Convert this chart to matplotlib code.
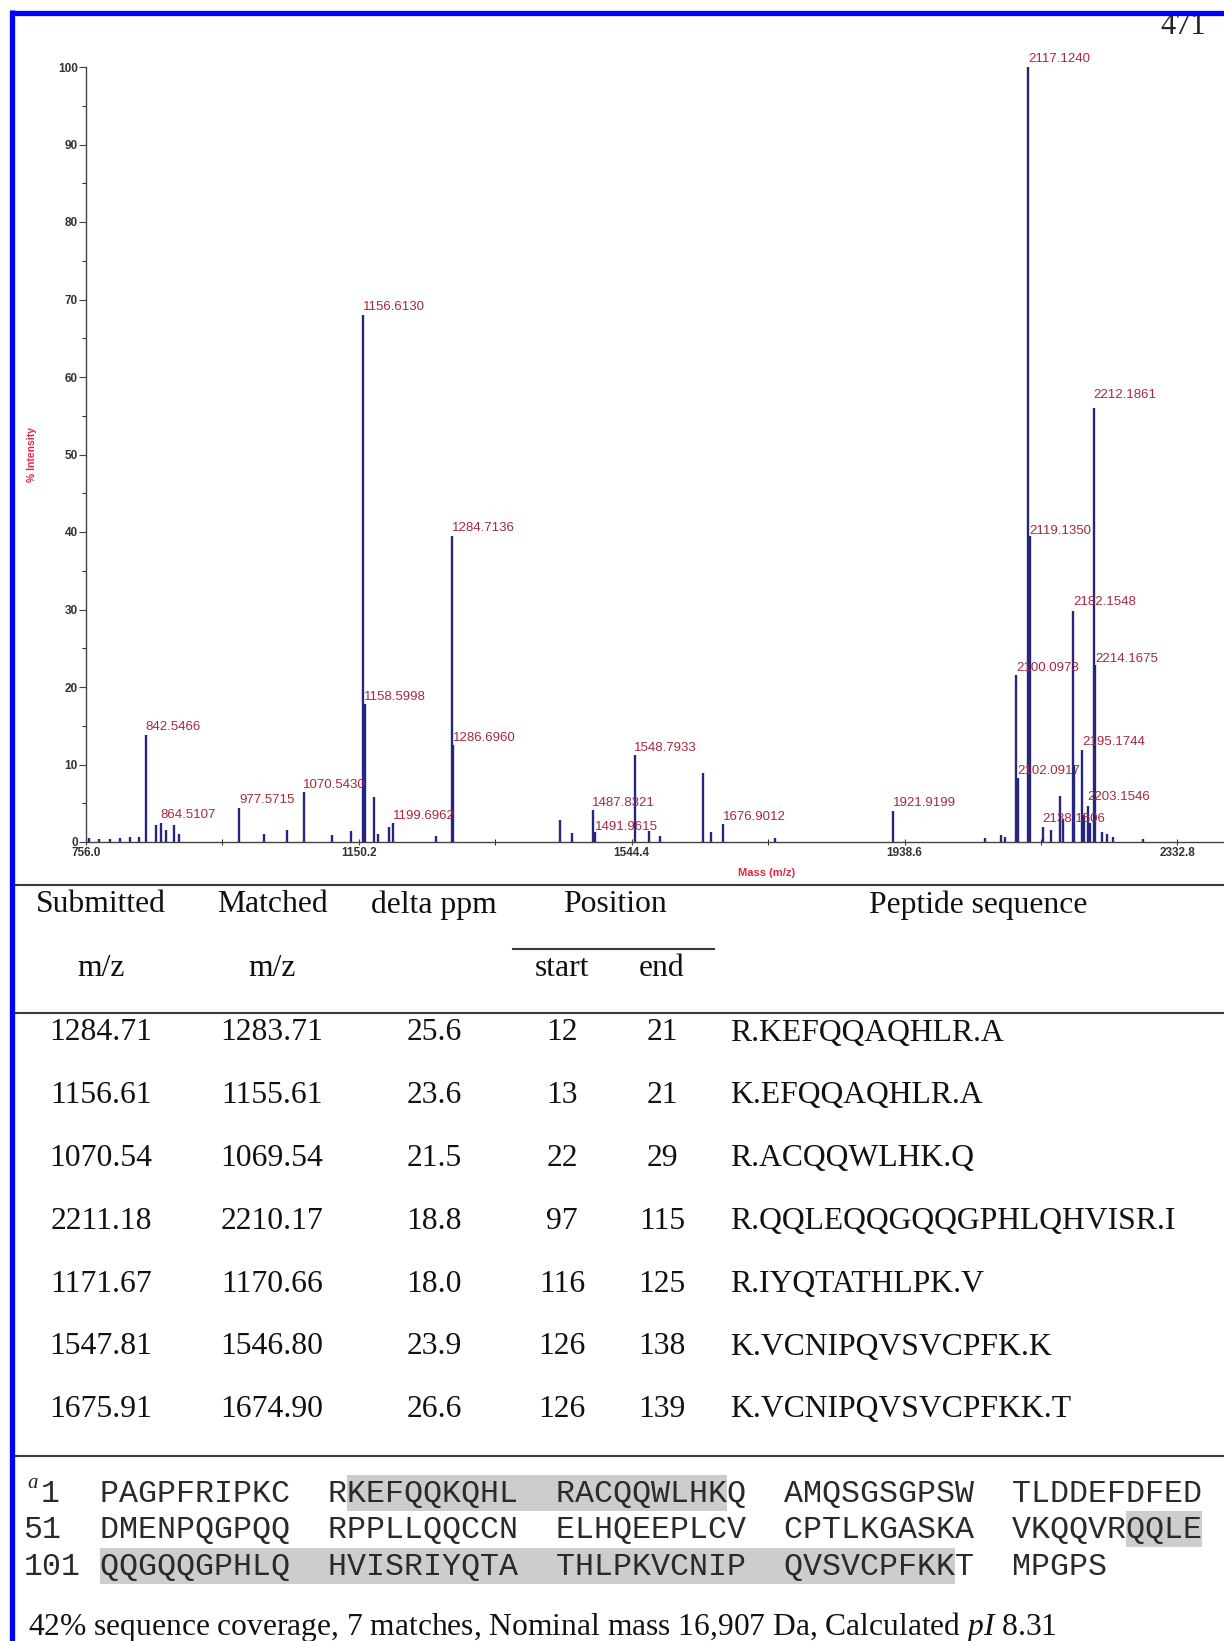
import matplotlib.pyplot as plt
from matplotlib.patches import Rectangle

plt.rcParams['mathtext.fontset'] = 'custom'
plt.rcParams['mathtext.rm'] = 'Liberation Serif'
plt.rcParams['mathtext.it'] = 'Liberation Serif:italic'

# MALDI spectrum, stick peaks (m/z, % intensity)
peak_mz = [760, 775, 790, 805, 820, 832,
           842.55, 857, 864.51, 871, 883.6, 890, 977.57, 1013, 1046, 1070.54,
           1112, 1139, 1156.61, 1158.60, 1172, 1178, 1194, 1199.70, 1262,
           1284.71, 1286.70, 1441, 1458, 1487.83, 1491.96, 1548.79, 1570, 1585,
           1646.7, 1659, 1676.90, 1752, 1921.92, 2055, 2078, 2084, 2100.10,
           2102.09, 2117.12, 2119.14, 2138.15, 2150, 2163.7, 2168, 2182.15,
           2184, 2195.17, 2198, 2203.15, 2206, 2212.19, 2214.17, 2224, 2231,
           2240, 2283]
peak_int = [0.5, 0.4, 0.4, 0.5, 0.6, 0.6,
            13.8, 2.2, 2.5, 1.5, 2.2, 1.0, 4.4, 1.0, 1.6, 6.4,
            0.9, 1.4, 68.0, 17.8, 5.8, 1.0, 2.0, 2.4, 0.8,
            39.5, 12.5, 2.9, 1.2, 4.1, 1.3, 11.2, 1.4, 0.8,
            8.9, 1.3, 2.3, 0.5, 4.0, 0.5, 0.9, 0.6, 21.5,
            8.2, 100.0, 39.5, 2.0, 1.5, 6.0, 3.0, 29.8,
            10.0, 11.9, 3.5, 4.7, 2.5, 56.0, 22.8, 1.3, 1.0,
            0.6, 0.4]

label_txt = ['842.5466', '864.5107', '977.5715', '1070.5430', '1156.6130',
             '1158.5998', '1199.6962', '1284.7136', '1286.6960', '1487.8321',
             '1491.9615', '1548.7933', '1676.9012', '1921.9199', '2100.0973',
             '2102.0917', '2117.1240', '2119.1350', '2138.1506', '2182.1548',
             '2195.1744', '2203.1546', '2212.1861', '2214.1675']
label_int = [13.8, 2.5, 4.4, 6.4, 68.0, 17.8, 2.4, 39.5, 12.5, 4.1, 1.0,
             11.2, 2.3, 4.0, 21.5, 8.2, 100.0, 39.2, 2.0, 30.0, 11.9, 4.8,
             56.7, 22.6]

x_ticks = [756.0, 1150.2, 1544.4, 1938.6, 2332.8]

# peptide mass fingerprint table
submitted = ['1284.71', '1156.61', '1070.54', '2211.18', '1171.67', '1547.81', '1675.91']
matched = ['1283.71', '1155.61', '1069.54', '2210.17', '1170.66', '1546.80', '1674.90']
delta_ppm = ['25.6', '23.6', '21.5', '18.8', '18.0', '23.9', '26.6']
pos_start = ['12', '13', '22', '97', '116', '126', '126']
pos_end = ['21', '21', '29', '115', '125', '138', '139']
peptides = ['R.KEFQQAQHLR.A', 'K.EFQQAQHLR.A', 'R.ACQQWLHK.Q',
            'R.QQLEQQGQQGPHLQHVISR.I', 'R.IYQTATHLPK.V',
            'K.VCNIPQVSVCPFK.K', 'K.VCNIPQVSVCPFKK.T']

protein = ('PAGPFRIPKCRKEFQQKQHLRACQQWLHKQAMQSGSGPSWTLDDEFDFED'
           'DMENPQGPQQRPPLLQQCCNELHQEEPLCVCPTLKGASKAVKQQVRQQLE'
           'QQGQQGPHLQHVISRIYQTATHLPKVCNIPQVSVCPFKKTMPGPS')
covered = [(12, 29), (97, 139)]
summary = '42% sequence coverage, 7 matches, Nominal mass 16,907 Da, Calculated $\\mathit{pI}$ 8.31'

W, H = 1224, 1641
fig = plt.figure(figsize=(W / 100, H / 100), dpi=100)
ov = fig.add_axes([0, 0, 1, 1])
ov.set_xlim(0, W)
ov.set_ylim(H, 0)
ov.axis('off')

# ---- spectrum ----
ax = fig.add_axes([86 / W, (H - 842) / H, (W - 86) / W, 775 / H])
ax.vlines(peak_mz, 0, peak_int, color='#26267d', lw=1.7)
ax.set_xlim(756, 2400)
ax.set_ylim(0, 100)
for s in ['top', 'right']:
    ax.spines[s].set_visible(False)
for s in ['left', 'bottom']:
    ax.spines[s].set_color('#444444')
    ax.spines[s].set_linewidth(1.0)
ax.set_xticks(x_ticks)
ax.set_xticklabels(['%.1f' % t for t in x_ticks])
ax.set_xticks([(a + b) / 2 for a, b in zip(x_ticks[:-1], x_ticks[1:])], minor=True)
ax.set_yticks(range(0, 101, 10))
ax.set_yticks(range(5, 100, 10), minor=True)
ax.tick_params(axis='both', labelsize=8.5, colors='#444444', labelcolor='#333333')
ax.tick_params(axis='y', which='major', length=5, pad=1)
ax.tick_params(axis='y', which='minor', length=3)
ax.tick_params(axis='x', which='both', direction='inout', length=5, pad=1)
for lab in ax.get_xticklabels() + ax.get_yticklabels():
    lab.set_fontweight('bold')
    lab.set_family('Liberation Sans')

for t, y in zip(label_txt, label_int):
    ax.text(float(t) - 0.5, y + 0.2, t, ha='left', va='bottom', fontsize=9.5,
            color='#a8283c', family='Liberation Sans', clip_on=False)

ax.set_ylabel('% Intensity', fontsize=7.5, color='#e3264a', fontweight='bold',
              family='Liberation Sans')
ax.yaxis.set_label_coords(-49 / 1138, 0.5)
ax.set_xlabel('Mass (m/z)', fontsize=8, color='#e3263f', fontweight='bold',
              family='Liberation Sans')
ax.xaxis.set_label_coords((767 - 86) / 1138, -31 / 775)
ax.xaxis.label.set_va('center')

# ---- frame and page number ----
ov.text(1183, 34, '471', ha='center', va='baseline', fontsize=22,
        family='Liberation Serif', color='#222222', zorder=1)
ov.plot([10, W], [12.5, 12.5], color='#0000ff', lw=3.8, zorder=5,
        solid_capstyle='butt')
ov.plot([12, 12], [10, H], color='#0000ff', lw=3.8, zorder=5,
        solid_capstyle='butt')

# ---- table ----
rule = dict(color='#3a3a3a', lw=1.5)
ov.plot([13, W], [885, 885], **rule)
ov.plot([13, W], [1013, 1013], **rule)
ov.plot([13, W], [1456, 1456], **rule)
ov.plot([513, 714], [949, 949], **rule)

serif = dict(family='Liberation Serif', fontsize=22.8, color='#111111',
             va='center')
col_x = [101, 272, 434, 562, 662]
seq_x = 730
for x, t in zip(col_x[:3] + [615], ['Submitted', 'Matched', 'delta ppm', 'Position']):
    ov.text(x, 905, t, ha='center', **serif)
ov.text(978, 905, 'Peptide sequence', ha='center', **serif)
for x, t in zip(col_x, ['m/z', 'm/z', None, 'start', 'end']):
    if t:
        ov.text(x, 969, t, ha='center', **serif)

row_y0, row_dy = 1033, 62.8
for i in range(len(submitted)):
    y = row_y0 + i * row_dy
    for x, v in zip(col_x, [submitted[i], matched[i], delta_ppm[i],
                            pos_start[i], pos_end[i]]):
        ov.text(x, y, v, ha='center', **serif)
    ov.text(seq_x, y, peptides[i], ha='left', **serif)

# ---- protein sequence with coverage ----
mono_fs = 22.8
cw = 0.6 * mono_fs * 100 / 72
x_num = 24
line_y = [1494, 1530, 1567]
x_seq = x_num + 4 * cw
mono = dict(family='Liberation Mono', fontsize=mono_fs, color='#2a2a2a',
            va='center', zorder=3)


def char_idx(off):
    return off + 2 * (off // 10)


for li, y in enumerate(line_y):
    chunk = protein[li * 50:(li + 1) * 50]
    blocks = [chunk[k:k + 10] for k in range(0, len(chunk), 10)]
    num = str(li * 50 + 1)
    ov.text(41 if li == 0 else x_num, y, num, ha='left', **mono)
    ov.text(x_seq, y, '  '.join(blocks), ha='left', **mono)
    for a, b in covered:
        lo = max(a, li * 50 + 1)
        hi = min(b, li * 50 + len(chunk))
        if lo > hi:
            continue
        x0 = x_seq + char_idx(lo - 1 - li * 50) * cw
        x1 = x_seq + (char_idx(hi - 1 - li * 50) + 1) * cw
        ov.add_patch(Rectangle((x0, y - 19), x1 - x0, 36, color='#cdcdcd',
                               lw=0, zorder=2))

ov.text(33, 1484, 'a', ha='center', va='center', fontsize=15, style='italic',
        family='Liberation Serif', color='#222222')

ov.text(28, 1627, summary, ha='left', va='center', family='Liberation Serif',
        fontsize=22.7, color='#111111')

fig.savefig('out.png', dpi=100)
